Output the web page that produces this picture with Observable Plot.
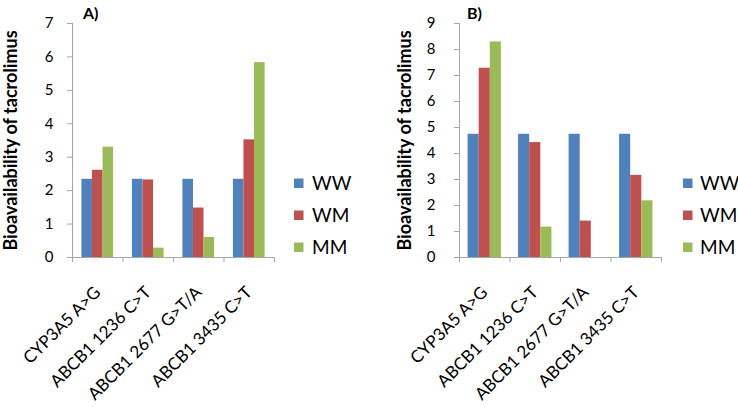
<!DOCTYPE html>
<html><head><meta charset="utf-8">
<script src="https://cdn.jsdelivr.net/npm/d3@7"></script>
<script src="https://cdn.jsdelivr.net/npm/@observablehq/plot@0.6"></script>
<style>
body{margin:0;background:#fff;}
#wrap{position:relative;width:738px;height:407px;overflow:hidden;font-family:Lato,"Liberation Sans",sans-serif;}
.panel{position:absolute;top:0;}
#overlay{position:absolute;left:0;top:0;}
svg [aria-label="y-axis label"] text{font-weight:bold;font-size:18px;}
</style></head><body><div id="wrap"></div>
<script>
// ---- data ----
const categories = ["CYP3A5 A>G", "ABCB1 1236 C>T", "ABCB1 2677 G>T/A", "ABCB1 3435 C>T"];
const series = ["WW", "WM", "MM"];
const colors = ["#4F81BD", "#C0504D", "#9BBB59"];
const panelA_WW = [2.34, 2.34, 2.34, 2.34];
const panelA_WM = [2.61, 2.32, 1.48, 3.52];
const panelA_MM = [3.30, 0.28, 0.60, 5.83];
const panelB_WW = [4.74, 4.74, 4.74, 4.74];
const panelB_WM = [7.28, 4.42, 1.40, 3.16];
const panelB_MM = [8.29, 1.17, 0, 2.18];
const yTicksA = [0, 1, 2, 3, 4, 5, 6, 7];
const yTicksB = [0, 1, 2, 3, 4, 5, 6, 7, 8, 9];
const panelTitles = ["A)", "B)"];
const yLabel = "Bioavailability of tacrolimus";

const FONT = 'Lato, "Liberation Sans", sans-serif';
const GRAY = "#A6A6A6";

function tidy(ww, wm, mm) {
  const cols = [ww, wm, mm];
  const out = [];
  categories.forEach((c, ci) => series.forEach((s, si) => out.push({cat: c, ci, series: s, si, value: cols[si][ci]})));
  return out;
}

function makePanel({data, yTicks, width, marginLeft, marginRight, groupFrac, labelOffset, tickPadding}) {
  const n = categories.length;
  const w = groupFrac / series.length;
  const pad = (1 - groupFrac) / 2;
  return Plot.plot({
    width, height: 407,
    marginLeft, marginRight, marginTop: 23, marginBottom: 150,
    style: {fontFamily: FONT, background: "transparent", color: "#000", overflow: "visible"},
    x: {domain: [0, n], axis: null},
    y: {domain: [0, d3.max(yTicks)], axis: null},
    color: {domain: series, range: colors},
    marks: [
      Plot.rectY(data.filter(d => d.value > 0), {
        x1: d => d.ci + pad + d.si * w,
        x2: d => d.ci + pad + (d.si + 1) * w,
        y1: 0, y2: "value", fill: "series"
      }),
      Plot.ruleY([0], {stroke: GRAY}),
      Plot.ruleX([0], {stroke: GRAY}),
      Plot.axisX({ticks: d3.range(n + 1), tickSize: 5, tickFormat: () => "", stroke: GRAY, label: null}),
      Plot.axisY({
        ticks: yTicks, tickSize: 5, tickPadding, tickFormat: d3.format("d"), stroke: GRAY, fill: "#000", fontSize: 15,
        label: yLabel, labelAnchor: "center", labelArrow: "none", labelOffset
      }),
      Plot.text(categories, {
        x: (d, i) => i + 0.5, y: 0, text: d => d,
        rotate: -45, textAnchor: "end", dx: 0, dy: 32, fontSize: 17, fill: "#000"
      })
    ]
  });
}

const wrap = document.getElementById("wrap");

const pA = makePanel({data: tidy(panelA_WW, panelA_WM, panelA_MM), yTicks: yTicksA,
  width: 370, marginLeft: 72, marginRight: 96, groupFrac: 0.627, labelOffset: 68, tickPadding: 14});
pA.classList.add("panel"); pA.style.left = "0px";
wrap.appendChild(pA);

const pB = makePanel({data: tidy(panelB_WW, panelB_WM, panelB_MM), yTicks: yTicksB,
  width: 368, marginLeft: 89, marginRight: 77, groupFrac: 0.66, labelOffset: 61, tickPadding: 19});
pB.classList.add("panel"); pB.style.left = "370px";
wrap.appendChild(pB);

// ---- titles and legends (overlay) ----
const svg = d3.select(wrap).append("svg").attr("id", "overlay")
  .attr("width", 738).attr("height", 407).style("font-family", FONT);
const titleX = [83, 467];
panelTitles.forEach((t, i) => svg.append("text").attr("x", titleX[i]).attr("y", 18.5)
  .attr("font-weight", "bold").attr("font-size", 16).text(t));
const legendX = [[294, 312], [683, 700]];
const legendY = [183, 215, 247];
legendX.forEach(([sx, tx]) => {
  series.forEach((s, i) => {
    svg.append("rect").attr("x", sx).attr("y", legendY[i] - 4.5).attr("width", 9.5).attr("height", 9.5).attr("fill", colors[i]);
    svg.append("text").attr("x", tx).attr("y", legendY[i] + 6.5).attr("font-size", 19).text(s);
  });
});
</script>
</body></html>
